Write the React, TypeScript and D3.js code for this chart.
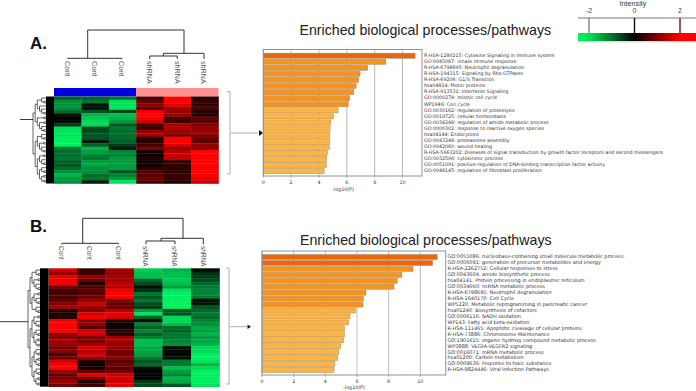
import React from "react";
import * as d3 from "d3";

const sampleLabelsA = ["Cont", "Cont", "Cont", "shRNA", "shRNA", "shRNA"];
const heatA = [
  [-0.8,-0.8,-1,0.6,2,0.3],[-1.2,-1,-1.9,0.8,2,0.4],[-1.2,-0.1,-1.9,1.1,1.7,0.3],[-1.2,-0.2,-1.9,0.8,1.3,0.6],
  [-0.9,-0.7,-0.6,1.9,1.2,0.3],[-0.1,-1.5,-1.6,2,1.2,0.2],[0,-1.7,-1.5,2,0.6,0.8],[-0.1,-1.8,-1.3,1.6,0.5,0.7],
  [-0.5,-1.8,-0.7,0.5,1.3,1],[-1.9,-0.6,-1,0.5,1.4,1.2],[-1.9,-0.6,-0.9,1.2,1.2,1.2],[-1.9,-0.7,-0.9,1.3,0.9,1],
  [-2,-0.7,-0.9,0.3,2,0.9],[-2,-0.2,-0.8,0.3,2,0.7],[-2,-0.8,-0.5,0.5,1.7,1.2],[-1,-1.5,-0.2,1,1.2,1.1],
  [-0.9,-1.3,-1.1,0.1,1.4,2],[-0.9,-1.1,-1.1,0.1,1.6,2],[-1,-1,-1.3,0.3,1.5,2],[-0.8,-1.3,-1.3,0.1,0.4,2],
  [-0.7,-1.4,-1.3,0.1,0.4,2],[-0.9,-1.2,-1.3,0.4,0.4,2],[-1.2,-1.2,-0.7,0.6,0.3,2],[-1.5,-0.9,-1.1,0.7,0.5,2],
  [-1.3,-1,-1.3,0.9,0.4,1.8],[-1.2,-0.3,-1.9,0.6,0.3,1.6],
];
const heatB = [
  [1.7,0.4,1.3,-1.7,-1.5,-0.1],[1.2,0.5,1.2,-1.6,-1.6,-0.4],[1.8,1.2,1.2,-1.6,-1.6,-0.5],[1.9,0.9,1.3,-0.9,-1.7,-0.6],
  [1.9,0.2,1.5,-0.6,-1.6,-0.9],[0.8,0.6,1.3,-0.1,-1.3,-1],[0.6,0.8,1.9,-0.4,-1.9,-1.1],[0.5,0.6,2,-1,-2,-1.1],
  [0.6,0.9,2,-0.7,-2,-1],[0.8,1.2,1,-1,-2,-0.1],[1,1.5,0.8,-0.6,-2,-0.2],[1.3,1.2,0.8,-0.5,-2,-0.7],
  [0.2,1,1.5,-1.3,-0.7,-0.9],[0.2,1.7,1.8,-1.9,-0.7,-1],[0.3,1.9,1.7,-0.8,-1.8,-0.9],[1.9,1,0.2,-0.1,-1.8,-1.1],
  [2,1.2,0.1,-1.1,-1.6,-1.2],[2,0.7,0.1,-0.8,-0.9,-1.4],[2,1.6,0.4,-1.1,-0.8,-1.3],[1.2,1.7,0.3,-0.8,-1,-1.5],
  [1.1,1,1.3,-1.1,-1,-1.3],[1.3,0.9,1.3,-1.6,-1.1,-1.4],[1.2,1.3,1.2,-1.6,-1.2,-1.5],[0.9,1.7,1.2,-1.4,-0.1,-1.8],
  [1.1,1.4,0.9,-1.4,-0.1,-1.8],[0.5,1.7,0.9,-1.3,0,-2],[0.9,1.2,1.1,-1,-0.1,-2],[1.7,0.2,0.7,-0.7,-1,-1.9],
  [2,0.1,0.9,-0.9,-1,-1.5],[2,0.2,0.7,-0.1,-1.6,-1.8],[1.2,0.8,0.9,0,-1.3,-2],[0.7,1.8,1.6,0,-1.1,-2],
  [1,1,1.7,0,-1.5,-2],[1.2,0.3,1.6,-0.5,-1.4,-2],[0.9,0.5,1.8,-0.6,-0.7,-1.9],
];
const sampleLabelsB = ["Cont", "Cont", "Cont", "shRNA", "shRNA", "shRNA"];
const termsA = [
  "R-HSA-1280215: Cytokine Signaling in Immune system","GO:0045087: innate immune response","R-HSA-6798695: Neutrophil degranulation",
  "R-HSA-194315: Signaling by Rho GTPases","R-HSA-69206: G1/S Transition","hsa04814: Motor proteins","R-HSA-913531: Interferon Signaling",
  "GO:0000278: mitotic cell cycle","WP1946: Cori cycle","GO:0030162: regulation of proteolysis","GO:0019725: cellular homeostasis",
  "GO:0034248: regulation of amide metabolic process","GO:0000302: response to reactive oxygen species","hsa04144: Endocytosis",
  "GO:0043248: proteasome assembly","GO:0042060: wound healing",
  "R-HSA-5663202: Diseases of signal transduction by growth factor receptors and second messengers","GO:0032506: cytokinetic process",
  "GO:0051091: positive regulation of DNA-binding transcription factor activity","GO:0048145: regulation of fibroblast proliferation",
];
const valuesA = [10.9,8.8,7.5,6.95,6.85,6.67,6.5,6.2,6.1,5.37,5.04,4.85,4.8,4.78,4.78,4.75,4.6,4.55,4.53,4.37];
const termsB = [
  "GO:0055086: nucleobase-containing small molecule metabolic process.","GO:0006091: generation of precursor metabolites and energy",
  "R-HSA-2262752: Cellular responses to stress","GO:0043604: amide biosynthetic process","hsa04141: Protein processing in endoplasmic reticulum",
  "GO:0034660: ncRNA metabolic process","R-HSA-6798695: Neutrophil degranulation","R-HSA-1640170: Cell Cycle",
  "WP5220: Metabolic reprogramming in pancreatic cancer","hsa01240: Biosynthesis of cofactors","GO:0006116: NADH oxidation",
  "WP143: Fatty acid beta-oxidation","R-HSA-111465: Apoptotic cleavage of cellular proteins","R-HSA-73886: Chromosome Maintenance",
  "GO:1901615: organic hydroxy compound metabolic process","WP3888: VEGFA-VEGFR2 signaling","GO:0016071: mRNA metabolic process",
  "hsa01200: Carbon metabolism","GO:0009636: response to toxic substance","R-HSA-9824446: Viral Infection Pathways",
];
const valuesB = [11.07,10.78,9.54,8.84,8.55,8.34,6.57,6.4,6.38,5.92,5.56,5.47,5.2,5.22,5.16,4.97,4.86,4.78,4.6,4.55];
const xTicks = [0,2,4,6,8,10];
const legendTicks = [-2,0,2];
const legendTickColors = ["#808080","#111111","#6a1515"];
const title = "Enriched biological processes/pathways";

type Tree = any;
const rowTreeA: Tree = [
  [[[1,[2,3]],[4,[5,[6,7]]]],[[8,9],[[10,11],[12,[13,14]]]]],
  [[[15,[16,17]],[[18,19],[20,[21,22]]]],[[[23,24],[25,[26,27]]],[[28,[29,30]],[[31,32],[33,34]]]]],
];
const rowTreeB: Tree = [
  [[[1,[2,3]],[[4,5],[6,[7,8]]]],[[[9,10],[11,[12,13]]],[14,[15,16]]]],
  [[[[17,18],[19,[20,21]]],[[22,[23,24]],[[25,26],[27,28]]]],[[[29,[30,31]],[[32,33],[34,35]]],[[36,[37,38]],[[39,40],[41,42]]]]],
];

const heatColor = d3.scaleLinear<string>().domain([-2,0,2]).range(["#00f060","#000000","#ff0000"]).clamp(true);
const barColor = d3.scaleThreshold<number,string>().domain([6,10]).range(["#fcb544","#f6931f","#e8660f"]);

function Heat({rows,x0,x1,y0,y1,dx0,dx1,tree,rootX0,rootY}:{rows:number[][];x0:number;x1:number;y0:number;y1:number;dx0:number;dx1:number;tree:Tree;rootX0:number;rootY:number}){
  const xs = d3.scaleBand<number>().domain(d3.range(6)).range([x0,x1]);
  const ys = d3.scaleBand<number>().domain(d3.range(rows.length)).range([y0,y1]);
  const root = d3.hierarchy<any>(tree,(d:any)=>Array.isArray(d)?d:null);
  d3.cluster<any>().size([y1-y0,dx1-dx0])(root);
  const paths: string[] = [];
  root.each((n:any)=>{ if(n.parent){ paths.push(`M${dx0+n.parent.y},${y0+n.parent.x}V${y0+n.x}H${dx0+n.y}`);} });
  return <g>
    <g filter="url(#soft)">
    {rows.map((r,i)=>r.map((v,j)=><rect key={i+"-"+j} x={xs(j)} y={ys(i)} width={xs.bandwidth()+0.3} height={ys.bandwidth()+0.3} fill={heatColor(v)}/>))}
    </g>
    <rect x={dx1} y={y0} width={x0-dx1} height={y1-y0} fill="#000"/>
    <path d={paths.join("")} fill="none" stroke="#222" strokeWidth={0.7}/>
    <line x1={rootX0} x2={dx0} y1={rootY} y2={rootY} stroke="#222" strokeWidth={0.9}/>
  </g>;
}

function ColDendro({xs,top,leftY,rightY,midY,leafY,labels,labelY,lm,pm,rm,fs}:{xs:number[];top:number;leftY:number;rightY:number;midY:number;leafY:number;labels:string[];labelY:number;lm:number;pm:number;rm:number;fs:number}){
  const [a,b,c,d,e,f]=xs;
  const segs=[
    `M${a},${leafY}V${leftY}H${c}V${leafY}`,`M${b},${leftY}V${leafY}`,`M${lm},${leftY}V${top}H${rm}V${rightY}`,
    `M${pm},${rightY}H${f}V${leafY}`,`M${pm},${rightY}V${midY}`,`M${d},${leafY}V${midY}H${e}V${leafY}`,
  ];
  return <g>
    <path d={segs.join("")} fill="none" stroke="#333" strokeWidth={1}/>
    {labels.map((l,i)=><text key={i} transform={`translate(${xs[i]-2.6},${labelY}) rotate(90)`} fontSize={fs} fontFamily="Liberation Sans" fill="#555">{l}</text>)}
  </g>;
}

function Bars({terms,values,x0,x10,right,top,bottom,first,last,labelX,fs,tickY,xlabX,xlabY}:{terms:string[];values:number[];x0:number;x10:number;right:number;top:number;bottom:number;first:number;last:number;labelX:number;fs:number;tickY:number;xlabX:number;xlabY:number}){
  const x=d3.scaleLinear().domain([0,10]).range([x0,x10]);
  const step=(last-first)/(values.length-1);
  const y=(i:number)=>first+i*step;
  return <g>
    {xTicks.map(t=><line key={t} x1={x(t)} x2={x(t)} y1={top} y2={bottom+2} stroke="#a9a9a9" strokeWidth={0.8}/>)}
    {values.map((v,i)=><rect key={i} x={x(0)} y={y(i)-step*0.42} width={x(v)-x(0)} height={step*0.84} fill={barColor(v)} stroke="#a08a6a" strokeWidth={0.5}/>)}
    <rect x={x0} y={top} width={right-x0} height={bottom-top} fill="none" stroke="#8a94a2" strokeWidth={1}/>
    {xTicks.map(t=><text key={t} x={x(t)} y={tickY} fontSize={4.8} textAnchor="middle" dominantBaseline="middle" fontFamily="DejaVu Sans" fill="#333">{t}</text>)}
    <text x={xlabX} y={xlabY} fontSize={4.8} textAnchor="middle" dominantBaseline="middle" fontFamily="DejaVu Sans" fill="#333">-log10(P)</text>
    {terms.map((t,i)=><text key={i} x={labelX} y={y(i)} fontSize={fs} dominantBaseline="middle" fontFamily="DejaVu Sans" fill="#333">{t}</text>)}
  </g>;
}

export default function App(){
  const lx=d3.scaleLinear().domain([-2,2]).range([589,680]);
  return <svg width={696} height={391} viewBox="0 0 696 391" style={{position:"fixed",left:0,top:0,background:"#fff"}}>
    <defs>
      <filter id="soft" x="-2%" y="-2%" width="104%" height="104%"><feGaussianBlur stdDeviation="0.45"/></filter>
      <linearGradient id="lg" x1="0" x2="1" y1="0" y2="0">
        <stop offset="0" stopColor="#00f060"/><stop offset="0.1" stopColor="#00e058"/>
        <stop offset={(lx(0)-578)/118} stopColor="#000"/>
        <stop offset={(lx(2)-578)/118} stopColor="#ff0000"/><stop offset="1" stopColor="#ff0000"/>
      </linearGradient>
    </defs>
    <text x={30} y={49} fontSize={17} fontWeight="bold" fontFamily="Liberation Sans" fill="#111">A.</text>
    <text x={30} y={232} fontSize={17} fontWeight="bold" fontFamily="Liberation Sans" fill="#111">B.</text>
    <text x={299.5} y={35} fontSize={14.2} fontFamily="Liberation Sans" fill="#222">{title}</text>
    <text x={300} y={244.7} fontSize={14.2} fontFamily="Liberation Sans" fill="#222">{title}</text>

    <ColDendro xs={[67.7,95,122,149.7,177.3,204]} top={30} leftY={58.3} rightY={53.3} midY={56} leafY={59} labels={sampleLabelsA} labelY={61} lm={87.7} pm={163.3} rm={184} fs={7.2}/>
    <rect x={54} y={88} width={82} height={8.5} fill="#0000e0"/>
    <rect x={136} y={88} width={82.5} height={8.5} fill="#ff9090"/>
    <Heat rows={heatA} x0={54} x1={218.5} y0={96.5} y1={183.5} dx0={33} dx1={46} tree={rowTreeA} rootX0={20} rootY={119.5}/>
    <path d="M227,91.7H230V174H227" fill="none" stroke="#999" strokeWidth={0.8}/>
    <line x1={231} x2={258} y1={133} y2={133} stroke="#888" strokeWidth={0.7}/>
    <path d="M259,130L263,133L259,136Z" fill="#111"/>

    <ColDendro xs={[61.7,90,118.3,146,175,203.3]} top={218.3} leftY={243.3} rightY={238.3} midY={241} leafY={244.3} labels={sampleLabelsB} labelY={246} lm={82.7} pm={161} rm={183} fs={6.5}/>
    <Heat rows={heatB} x0={48.5} x1={219.5} y0={268.3} y1={386.7} dx0={28} dx1={40} tree={rowTreeB} rootX0={0} rootY={321.7}/>
    <path d="M226,268H229V384H226" fill="none" stroke="#999" strokeWidth={0.8}/>
    <line x1={230} x2={247} y1={326.7} y2={326.7} stroke="#888" strokeWidth={0.7}/>
    <path d="M247.5,324.5L251,326.7L247.5,329Z" fill="#111"/>

    <Bars terms={termsA} values={valuesA} x0={263.3} x10={402.5} right={422} top={49.5} bottom={176} first={55.7} last={171} labelX={424} fs={4.75} tickY={183} xlabX={343} xlabY={189.5}/>
    <Bars terms={termsB} values={valuesB} x0={262} x10={420.3} right={445.7} top={251} bottom={375} first={257} last={370} labelX={447.5} fs={4.95} tickY={381.5} xlabX={354} xlabY={388}/>

    <text x={633} y={4.5} fontSize={7.2} textAnchor="middle" dominantBaseline="middle" fontFamily="Liberation Sans" fill="#333">Intensity</text>
    <line x1={578} x2={696} y1={18} y2={18} stroke="#555" strokeWidth={0.8}/>
    {legendTicks.map((t,i)=><g key={t}>
      <text x={lx(t)} y={11.5} fontSize={7} textAnchor="middle" dominantBaseline="middle" fontFamily="Liberation Sans" fill="#444">{t}</text>
      <line x1={lx(t)} x2={lx(t)} y1={18} y2={33} stroke={legendTickColors[i]} strokeWidth={1.4}/>
    </g>)}
    <rect x={578} y={33} width={118} height={8} fill="url(#lg)"/>
    <rect x={578} y={41} width={118} height={1.5} fill="#ddd"/>
  </svg>;
}
